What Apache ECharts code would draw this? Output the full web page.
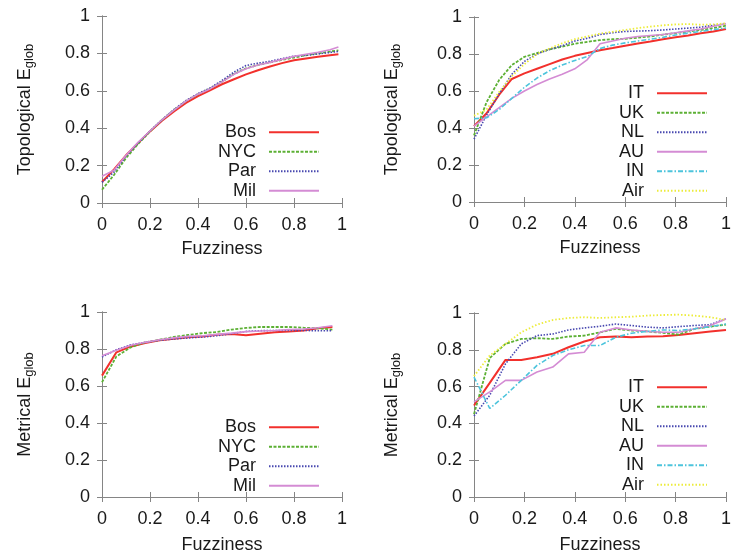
<!DOCTYPE html>
<html><head><meta charset="utf-8">
<script src="https://cdn.jsdelivr.net/npm/echarts@6/dist/echarts.min.js"></script>
<style>html,body{margin:0;padding:0;background:#fff}#c{width:734px;height:556px}</style>
</head><body><div id="c"></div>
<script>
// ---------- DATA ----------
const xTicks = [0, 0.2, 0.4, 0.6, 0.8, 1];
const yTicks = [0, 0.2, 0.4, 0.6, 0.8, 1];

// top-left: Topological, cities
const fuzzTL = [0,0.05,0.1,0.15,0.2,0.25,0.3,0.35,0.4,0.45,0.5,0.55,0.6,0.65,0.7,0.75,0.8,0.85,0.9,0.95,0.985];
const topoBos = [0.112,0.18,0.255,0.32,0.383,0.44,0.49,0.535,0.572,0.603,0.635,0.662,0.688,0.71,0.73,0.748,0.763,0.773,0.782,0.79,0.795];
const topoNYC = [0.071,0.15,0.24,0.315,0.383,0.445,0.498,0.545,0.582,0.612,0.648,0.69,0.72,0.738,0.752,0.765,0.778,0.79,0.8,0.81,0.816];
const topoPar = [0.11,0.165,0.25,0.32,0.385,0.445,0.5,0.548,0.585,0.615,0.655,0.7,0.735,0.748,0.758,0.772,0.785,0.79,0.797,0.805,0.81];
const topoMil = [0.143,0.175,0.255,0.325,0.385,0.445,0.497,0.545,0.582,0.61,0.648,0.688,0.718,0.738,0.752,0.768,0.784,0.795,0.806,0.82,0.834];

// top-right: Topological, countries
const fuzzTR = [0,0.05,0.1,0.15,0.2,0.25,0.3,0.35,0.4,0.45,0.5,0.55,0.6,0.65,0.7,0.75,0.8,0.85,0.9,0.95,1];
const topoIT  = [0.41,0.48,0.58,0.665,0.695,0.72,0.745,0.77,0.79,0.805,0.82,0.832,0.845,0.857,0.868,0.88,0.89,0.9,0.912,0.922,0.935];
const topoUK  = [0.36,0.54,0.66,0.74,0.785,0.805,0.825,0.84,0.855,0.866,0.875,0.88,0.882,0.888,0.895,0.905,0.913,0.922,0.93,0.94,0.953];
const topoNL  = [0.34,0.47,0.585,0.69,0.76,0.8,0.825,0.845,0.87,0.885,0.905,0.915,0.922,0.924,0.926,0.93,0.935,0.94,0.945,0.955,0.964];
const topoAU  = [0.41,0.46,0.51,0.56,0.6,0.635,0.665,0.69,0.72,0.77,0.855,0.87,0.885,0.895,0.9,0.905,0.915,0.925,0.935,0.95,0.964];
const topoIN  = [0.45,0.455,0.5,0.56,0.62,0.67,0.71,0.74,0.765,0.787,0.83,0.848,0.86,0.87,0.88,0.89,0.903,0.913,0.922,0.932,0.94];
const topoAir = [0.466,0.5,0.595,0.68,0.745,0.8,0.83,0.858,0.88,0.895,0.91,0.92,0.93,0.94,0.948,0.955,0.96,0.962,0.958,0.96,0.966];

// bottom-left: Metrical, cities
const fuzzBL = [0,0.06,0.12,0.18,0.24,0.3,0.36,0.42,0.48,0.54,0.6,0.66,0.72,0.78,0.84,0.9,0.96];
const metrBos = [0.656,0.782,0.814,0.832,0.847,0.856,0.863,0.868,0.877,0.881,0.874,0.883,0.89,0.895,0.9,0.912,0.919];
const metrNYC = [0.62,0.76,0.809,0.836,0.85,0.865,0.876,0.886,0.892,0.905,0.914,0.919,0.919,0.919,0.915,0.912,0.905];
const metrPar = [0.757,0.796,0.823,0.836,0.847,0.854,0.86,0.865,0.872,0.883,0.895,0.899,0.9,0.9,0.9,0.899,0.899];
const metrMil = [0.764,0.793,0.82,0.836,0.85,0.86,0.868,0.872,0.879,0.886,0.894,0.897,0.9,0.905,0.908,0.915,0.926];

// bottom-right: Metrical, countries
const fuzzBR = [0,0.0625,0.125,0.1875,0.25,0.3125,0.375,0.4375,0.5,0.5625,0.625,0.6875,0.75,0.8125,0.875,0.9375,1];
const metrIT  = [0.497,0.62,0.745,0.745,0.76,0.778,0.814,0.845,0.868,0.872,0.868,0.872,0.874,0.881,0.89,0.899,0.908];
const metrUK  = [0.45,0.755,0.832,0.859,0.863,0.859,0.872,0.877,0.895,0.914,0.905,0.9,0.892,0.883,0.914,0.926,0.937];
const metrNL  = [0.44,0.553,0.724,0.832,0.877,0.886,0.908,0.919,0.928,0.94,0.932,0.923,0.919,0.926,0.932,0.937,0.968];
const metrAU  = [0.517,0.571,0.634,0.634,0.679,0.706,0.778,0.787,0.895,0.919,0.908,0.9,0.895,0.895,0.914,0.932,0.968];
const metrIN  = [0.652,0.481,0.553,0.634,0.715,0.769,0.8,0.823,0.823,0.868,0.89,0.9,0.908,0.905,0.914,0.926,0.94];
const metrAir = [0.657,0.769,0.832,0.895,0.937,0.962,0.973,0.977,0.973,0.977,0.98,0.986,0.989,0.991,0.986,0.977,0.962];

const citiesNames = ['Bos','NYC','Par','Mil'];
const countryNames = ['IT','UK','NL','AU','IN','Air'];

// ---------- STYLES ----------
const FONT = 'Liberation Sans, Arial, sans-serif';
const TXT = '#1a1a1a';
const FRAME = '#858585';
const lineStyles = {
  Bos: {color:'#f2302c', type:'solid', width:2},
  IT:  {color:'#f2302c', type:'solid', width:2},
  NYC: {color:'#5cb034', type:[3,1.5], width:1.8},
  UK:  {color:'#5cb034', type:[3,1.5], width:1.8},
  Par: {color:'#4848b0', type:[1.5,1.5], width:1.6},
  NL:  {color:'#4848b0', type:[1.5,1.5], width:1.6},
  Mil: {color:'#d48cd4', type:'solid', width:1.6},
  AU:  {color:'#d48cd4', type:'solid', width:1.6},
  IN:  {color:'#4cc4dc', type:[5,2,1.5,2], width:1.6},
  Air: {color:'#ecec3a', type:[1.5,2], width:1.8}
};

// ---------- LAYOUT ----------
const grids = [
  {left:102, top:16,  width:240, height:187},
  {left:474, top:17,  width:257, height:185},
  {left:102, top:312, width:240, height:185},
  {left:474, top:313, width:257, height:184}
];
const yTitles = ['Topological E{s|glob}','Topological E{s|glob}','Metrical E{s|glob}','Metrical E{s|glob}'];
const yNameGaps = [66, 71, 66, 71];
const xNameGaps = [37, 37, 39, 39];

const xAxes = [], yAxes = [];
grids.forEach((g, i) => {
  const common = {
    type:'value', min:0, max:1, interval:0.2, gridIndex:i,
    axisLine:{show:true, lineStyle:{color:FRAME, width:1}},
    axisTick:{show:true, inside:true, length:5, lineStyle:{color:FRAME}},
    splitLine:{show:false}
  };
  xAxes.push(Object.assign({}, common, {
    position:'bottom',
    axisLabel:{show:true, margin:13, fontSize:18, fontFamily:FONT, color:TXT},
    name:'Fuzziness', nameLocation:'middle', nameGap:xNameGaps[i],
    nameTextStyle:{fontSize:18, fontFamily:FONT, color:TXT}
  }));
  xAxes.push(Object.assign({}, common, {position:'top', axisLabel:{show:false}}));
  yAxes.push(Object.assign({}, common, {
    position:'left',
    axisLabel:{show:true, margin:12, fontSize:18, fontFamily:FONT, color:TXT},
    name:yTitles[i], nameLocation:'middle', nameGap:yNameGaps[i],
    nameTextStyle:{fontSize:18, fontFamily:FONT, color:TXT, lineHeight:22,
      rich:{s:{fontSize:13, fontFamily:FONT, color:TXT, lineHeight:10, verticalAlign:'bottom'}}}
  }));
  yAxes.push(Object.assign({}, common, {position:'right', axisLabel:{show:false}}));
});

function mk(name, xs, ys, gi) {
  const st = lineStyles[name];
  return {
    name, type:'line', xAxisIndex:gi*2, yAxisIndex:gi*2,
    data: xs.map((x, k) => [x, ys[k]]),
    showSymbol:false, symbol:'none', smooth:false, animation:false,
    itemStyle:{color:st.color},
    lineStyle:{color:st.color, type:st.type, width:st.width}
  };
}

const series = [
  mk('Bos', fuzzTL, topoBos, 0), mk('NYC', fuzzTL, topoNYC, 0), mk('Par', fuzzTL, topoPar, 0), mk('Mil', fuzzTL, topoMil, 0),
  mk('IT', fuzzTR, topoIT, 1), mk('UK', fuzzTR, topoUK, 1), mk('NL', fuzzTR, topoNL, 1),
  mk('AU', fuzzTR, topoAU, 1), mk('IN', fuzzTR, topoIN, 1), mk('Air', fuzzTR, topoAir, 1),
  mk('Bos', fuzzBL, metrBos, 2), mk('NYC', fuzzBL, metrNYC, 2), mk('Par', fuzzBL, metrPar, 2), mk('Mil', fuzzBL, metrMil, 2),
  mk('IT', fuzzBR, metrIT, 3), mk('UK', fuzzBR, metrUK, 3), mk('NL', fuzzBR, metrNL, 3),
  mk('AU', fuzzBR, metrAU, 3), mk('IN', fuzzBR, metrIN, 3), mk('Air', fuzzBR, metrAir, 3)
];

function legend(names, right, top) {
  return {
    data:names, orient:'vertical', align:'right', right, top, padding:0,
    itemWidth:50, itemHeight:10, itemGap:1, selectedMode:false,
    itemStyle:{opacity:0, color:'rgba(0,0,0,0)', borderWidth:0},
    textStyle:{fontSize:18, fontFamily:FONT, color:TXT, lineHeight:18.5, padding:[0,8,0,0]}
  };
}

const option = {
  animation:false,
  backgroundColor:'#ffffff',
  grid: grids.map(g => Object.assign({containLabel:false}, g)),
  xAxis: xAxes,
  yAxis: yAxes,
  legend: [
    legend(citiesNames, 414, 123),
    legend(countryNames, 26, 84),
    legend(citiesNames, 414, 418),
    legend(countryNames, 26, 378)
  ],
  series
};

const chart = echarts.init(document.getElementById('c'), null, {renderer:'canvas'});
chart.setOption(option);
</script>
</body></html>
